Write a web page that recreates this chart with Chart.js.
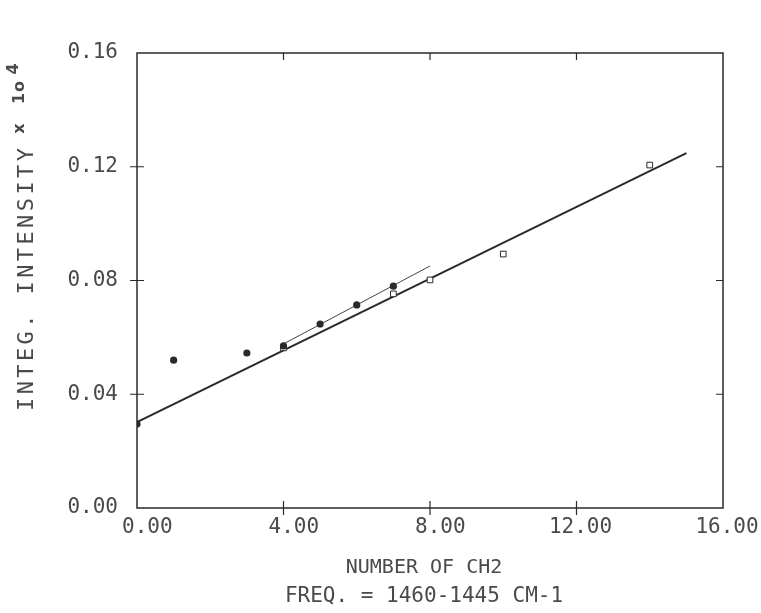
<!DOCTYPE html>
<html>
<head>
<meta charset="utf-8">
<script src="https://cdn.jsdelivr.net/npm/chart.js@4.4.1/dist/chart.umd.min.js"></script>
<style>
  html, body { margin: 0; padding: 0; background: #fff; }
  #wrap { width: 761px; height: 613px; }
</style>
</head>
<body>
<div id="wrap"><canvas id="plot" width="761" height="613"></canvas></div>
<script>
    // data
    const xTicks = [0, 4, 8, 12, 16];
    const yTicks = [0, 0.04, 0.08, 0.12, 0.16];

    const circleX = [0, 1, 3, 4, 5, 6, 7];
    const circleY = [0.0295, 0.052, 0.0545, 0.057, 0.0647, 0.0714, 0.078];

    const squareX = [4, 7, 8, 10, 14];
    const squareY = [0.0563, 0.0753, 0.0802, 0.0893, 0.1206];

    const fitX = [0, 15];
    const fitY = [0.0302, 0.1248];

    const shortFitX = [4, 8];
    const shortFitY = [0.0577, 0.0851];

    const ink = '#2a2a2a';
    const textInk = '#4a4a4a';
    const pts = (xs, ys) => xs.map((x, i) => ({ x: x, y: ys[i] }));

    // rotated text helper
    function vText(ctx, txt, x, y, font, align) {
        ctx.save();
        ctx.translate(x, y);
        ctx.rotate(-Math.PI / 2);
        ctx.font = font;
        ctx.textAlign = align || 'center';
        ctx.fillText(txt, 0, 0);
        ctx.restore();
    }

    // frame + cross ticks + axis titles
    const framePlugin = {
        id: 'frame',
        afterDraw(chart) {
            const { ctx, chartArea: a, scales } = chart;
            ctx.save();
            ctx.strokeStyle = ink;
            ctx.lineWidth = 1.5;
            ctx.strokeRect(a.left, a.top, a.right - a.left, a.bottom - a.top);

            ctx.lineWidth = 1.2;
            ctx.beginPath();
            xTicks.slice(1, -1).forEach(v => {
                const px = scales.x.getPixelForValue(v);
                ctx.moveTo(px, a.bottom - 7); ctx.lineTo(px, a.bottom + 7);
                ctx.moveTo(px, a.top); ctx.lineTo(px, a.top + 7);
            });
            yTicks.slice(1, -1).forEach(v => {
                const py = scales.y.getPixelForValue(v);
                ctx.moveTo(a.left - 7, py); ctx.lineTo(a.left + 7, py);
                ctx.moveTo(a.right, py); ctx.lineTo(a.right - 7, py);
            });
            ctx.stroke();

            // x titles
            ctx.fillStyle = textInk;
            ctx.textAlign = 'center';
            ctx.textBaseline = 'middle';
            ctx.font = '20px "DejaVu Sans Mono"';
            ctx.fillText('NUMBER OF CH2', 424, 568);
            ctx.font = '21px "DejaVu Sans Mono"';
            ctx.fillText('FREQ. = 1460-1445 CM-1', 424, 597);

            // y title, spaced plotter letters + small bold "x 10^4"
            ctx.letterSpacing = '3.4px';
            vText(ctx, 'INTEG. INTENSITY', 27, 411, '22px "DejaVu Sans Mono"', 'left');
            ctx.letterSpacing = '1px';
            vText(ctx, 'x', 20, 128, 'bold 16px "DejaVu Sans"');
            vText(ctx, '1o', 20, 92, 'bold 16px "DejaVu Sans"');
            ctx.letterSpacing = '0px';
            vText(ctx, '4', 14, 69, 'bold 16px "DejaVu Sans"');
            ctx.restore();
        }
    };

    const tickFont = { family: 'DejaVu Sans Mono', size: 21 };

    new Chart(document.getElementById('plot'), {
        type: 'scatter',
        data: {
            datasets: [
                {
                    data: pts(fitX, fitY),
                    showLine: true,
                    borderColor: ink,
                    borderWidth: 2,
                    pointRadius: 0,
                    order: 4
                },
                {
                    data: pts(shortFitX, shortFitY),
                    showLine: true,
                    borderColor: '#444',
                    borderWidth: 1,
                    pointRadius: 0,
                    order: 3
                },
                {
                    data: pts(squareX, squareY),
                    pointStyle: 'rect',
                    pointRadius: 4,
                    backgroundColor: '#fff',
                    borderColor: ink,
                    borderWidth: 1,
                    order: 2
                },
                {
                    data: pts(circleX, circleY),
                    pointStyle: 'circle',
                    pointRadius: 3.6,
                    backgroundColor: ink,
                    borderColor: ink,
                    borderWidth: 0,
                    order: 1
                }
            ]
        },
        options: {
            responsive: false,
            animation: false,
            layout: { padding: { left: 0, top: 53, right: 38, bottom: 0 } },
            plugins: { legend: { display: false }, tooltip: { enabled: false } },
            scales: {
                x: {
                    type: 'linear',
                    min: 0, max: 16,
                    afterBuildTicks: s => { s.ticks = xTicks.map(v => ({ value: v })); },
                    afterFit: s => { s.height = 105; },
                    ticks: { color: textInk, font: tickFont, padding: -1, maxRotation: 0,
                             labelOffset: 4,
                             // pad to 5 chars so the decimal point sits on the tick
                             callback: v => v.toFixed(2).padStart(5, ' ') },
                    grid: { display: false },
                    border: { display: false }
                },
                y: {
                    type: 'linear',
                    min: 0, max: 0.16,
                    afterBuildTicks: s => { s.ticks = yTicks.map(v => ({ value: v })); },
                    afterFit: s => { s.width = 137; },
                    ticks: { color: textInk, font: tickFont, padding: 11,
                             callback: v => v.toFixed(2) },
                    grid: { display: false },
                    border: { display: false }
                }
            }
        },
        plugins: [framePlugin]
    });
</script>
</body>
</html>
